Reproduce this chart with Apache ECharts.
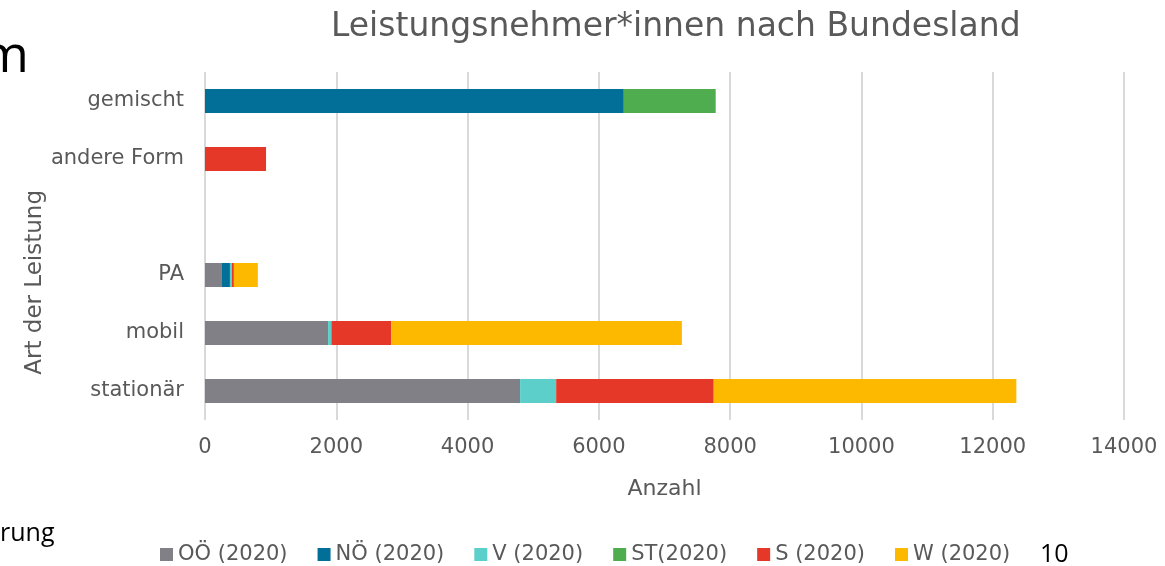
<!DOCTYPE html>
<html>
<head>
<meta charset="utf-8">
<script src="https://cdn.jsdelivr.net/npm/echarts@6/dist/echarts.min.js"></script>
<style>
  html, body { margin: 0; padding: 0; background: #fff; }
  #chart { width: 1165px; height: 566px; }
</style>
</head>
<body>
<div id="chart"></div>
<script>
// Kategorien von unten nach oben (leere Zeile zwischen PA und andere Form)
var categories = ['stationär', 'mobil', 'PA', '', 'andere Form', 'gemischt'];

var seriesNames = ['OÖ (2020)', 'NÖ (2020)', 'V (2020)', 'ST(2020)', 'S (2020)', 'W (2020)'];
var seriesColors = ['#808086', '#026f98', '#5ccfca', '#4fad4f', '#e63828', '#fcb900'];

var ooValues = [4800, 1875, 250, 0, 0, 0];
var noValues = [0, 0, 130, 0, 0, 6380];
var vValues  = [550, 50, 30, 0, 0, 0];
var stValues = [0, 0, 0, 0, 0, 1400];
var sValues  = [2400, 910, 30, 0, 930, 0];
var wValues  = [4610, 4430, 365, 0, 0, 0];

var allValues = [ooValues, noValues, vValues, stValues, sValues, wValues];

var textGrey = '#595959';
var fontFam = '"DejaVu Sans", sans-serif';
var slideFont = '"Open Sans", sans-serif';

var series = [];
for (var i = 0; i < seriesNames.length; i++) {
  series.push({
    name: seriesNames[i],
    type: 'bar',
    stack: 'total',
    barWidth: 24,
    itemStyle: { color: seriesColors[i] },
    data: allValues[i].map(function (v) { return v === 0 ? '-' : v; })
  });
}

var option = {
  animation: false,
  textStyle: { fontFamily: fontFam },
  title: {
    text: 'Leistungsnehmer*innen nach Bundesland',
    left: 326,
    top: 6,
    textStyle: { color: textGrey, fontSize: 33, fontWeight: 'normal', fontFamily: fontFam }
  },
  legend: {
    bottom: -4,
    left: 155,
    itemWidth: 13,
    itemHeight: 13,
    itemGap: 30,
    icon: 'rect',
    textStyle: { color: textGrey, fontSize: 21, fontFamily: fontFam },
    data: seriesNames
  },
  grid: {
    left: 205,
    right: 41,
    top: 72,
    bottom: 146,
    containLabel: false
  },
  xAxis: {
    type: 'value',
    min: 0,
    max: 14000,
    interval: 2000,
    name: 'Anzahl',
    nameLocation: 'middle',
    nameGap: 58,
    nameTextStyle: { color: textGrey, fontSize: 22, fontFamily: fontFam },
    axisLine: { show: false },
    axisTick: { show: false },
    axisLabel: {
      color: textGrey, fontSize: 21, margin: 17, fontFamily: fontFam,
      formatter: function (v) { return String(v); }
    },
    splitLine: { lineStyle: { color: '#d9d9d9', width: 2 } }
  },
  yAxis: {
    type: 'category',
    data: categories,
    axisLine: { show: false },
    axisTick: { show: false },
    axisLabel: { color: textGrey, fontSize: 21, margin: 21, fontFamily: fontFam }
  },
  graphic: [
    {
      type: 'text',
      left: 24,
      top: 190,
      rotation: Math.PI / 2,
      style: { text: 'Art der Leistung', fill: textGrey, font: '23px ' + fontFam }
    },
    {
      type: 'text',
      style: { x: 29, y: 57, text: 'm', fill: '#000', font: '52px ' + slideFont, align: 'right', verticalAlign: 'middle' }
    },
    {
      type: 'text',
      style: { x: 0, y: 534, text: 'rung', fill: '#000', font: '25px ' + slideFont, align: 'left', verticalAlign: 'middle' }
    },
    {
      type: 'text',
      style: { x: 1040, y: 555, text: '10', fill: '#000', font: '25px ' + slideFont, align: 'left', verticalAlign: 'middle' }
    }
  ],
  series: series
};

var myChart = echarts.init(document.getElementById('chart'));
myChart.setOption(option);
</script>
</body>
</html>
